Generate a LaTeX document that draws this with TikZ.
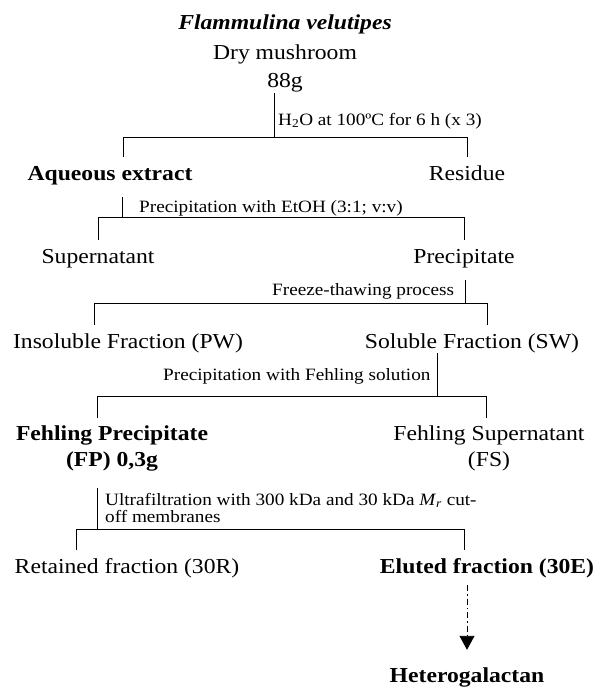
\documentclass[tikz,border=0pt]{standalone}
\usepackage{fontspec}
\setmainfont{Liberation Serif}[FakeStretch=1.11]
\usetikzlibrary{arrows.meta}

\begin{document}
\begin{tikzpicture}[x=1pt,y=1pt,
        item/.style={anchor=base,inner xsep=0pt,inner ysep=7pt,text height=16pt,text depth=5pt,font=\fontsize{21.3}{26}\selectfont},
        pair/.style={anchor=north,align=center,inner xsep=0pt,inner ysep=8pt,font=\fontsize{21.3}{26}\selectfont},
        bold/.style={font=\fontsize{21.3}{26}\selectfont\bfseries},
        lbl/.style={anchor=base west,inner sep=0pt,font=\fontsize{17.3}{17.5}\selectfont},
        link/.style={line width=0.9pt}]
        \useasboundingbox (0,0) rectangle (596,-688);

        \node[item] (fv) at (285,-29) {\textbf{\textit{Flammulina velutipes}}};
        \node[item] (dry) at (285,-59) {Dry mushroom};
        \node[item] (mass) at (285,-87) {88g};

        \node[item] (aq) at (110,-180) {\textbf{Aqueous extract}};
        \node[item] (res) at (467,-180) {Residue};
        \node[item] (sup) at (98,-263) {Supernatant};
        \node[item] (prec) at (464,-263) {Precipitate};
        \node[item] (pw) at (128,-348) {Insoluble Fraction (PW)};
        \node[item] (sw) at (472,-348) {Soluble Fraction (SW)};
        \node[pair,bold] (fp) at (112,-418) {Fehling Precipitate\\(FP) 0,3g};
        \node[pair] (fs) at (489,-418) {Fehling Supernatant\\(FS)};
        \node[item] (ret) at (127,-573) {Retained fraction (30R)};
        \node[item] (el) at (487,-573) {\textbf{Eluted fraction (30E)}};
        \node[item] (het) at (467,-682) {\textbf{Heterogalactan}};

        \coordinate (j1) at (274,-137);
        \coordinate (l1) at (123,-137);
        \coordinate (r1) at (467,-137);
        \coordinate (j2) at (122,-217);
        \coordinate (l2) at (98,-217);
        \coordinate (r2) at (464,-217);
        \coordinate (j3) at (465,-303);
        \coordinate (l3) at (94,-303);
        \coordinate (r3) at (487,-303);
        \coordinate (j4) at (437,-396);
        \coordinate (l4) at (97,-396);
        \coordinate (r4) at (486,-396);
        \coordinate (j5) at (97,-529);
        \coordinate (l5) at (76,-529);
        \coordinate (r5) at (464,-529);

        \node[lbl] (step1) at (278,-125) {H\textsubscript{2}O at 100ºC for 6 h (x 3)};
        \node[lbl] (step2) at (139,-212) {Precipitation with EtOH (3:1; v:v)};
        \node[lbl] (step3) at (272,-295) {Freeze-thawing process};
        \node[lbl] (step4) at (163,-380) {Precipitation with Fehling solution};
        \node[lbl,anchor=north west,align=left] (step5) at (105,-493) {Ultrafiltration with 300 kDa and 30 kDa \textit{M}\textsubscript{\textit{r}} cut-\\off membranes};

        \draw[link,shorten <=-6pt] (mass.south -| j1) -- (j1);
        \draw[link] (aq.north -| l1) -- (l1) -- (r1) -- (res.north -| r1);
        \draw[link,shorten <=5pt] (aq.south -| j2) -- (j2);
        \draw[link] (sup.north -| l2) -- (l2) -- (r2) -- (prec.north -| r2);
        \draw[link,shorten <=5pt] (prec.south -| j3) -- (j3);
        \draw[link] (pw.north -| l3) -- (l3) -- (r3) -- (sw.north -| r3);
        \draw[link,shorten <=-7pt] (sw.south -| j4) -- (j4);
        \draw[link] (fp.north -| l4) -- (l4) -- (r4) -- (fs.north -| r4);
        \draw[link,shorten <=8pt] (fp.south -| j5) -- (j5);
        \draw[link] (ret.north -| l5) -- (l5) -- (r5) -- (el.north -| r5);

        \draw[link,dash pattern=on 6pt off 3pt on 1.5pt off 3pt,shorten >=9pt,-{Triangle[length=14pt,width=15pt]}] (el.south -| het.north) -- (het.north);
\end{tikzpicture}
\end{document}
